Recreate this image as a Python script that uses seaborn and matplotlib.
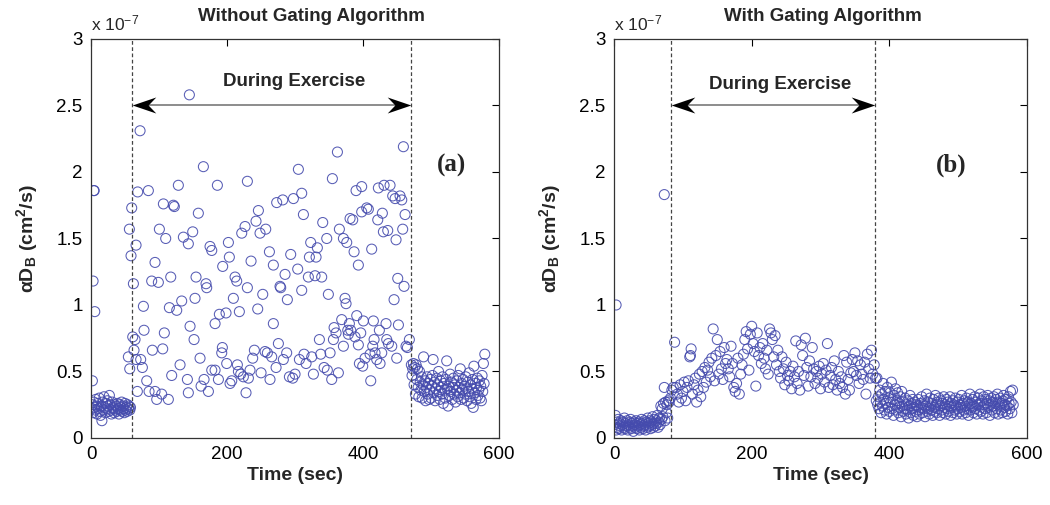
import numpy as np
import pandas as pd
import matplotlib
matplotlib.use("Agg")
import matplotlib.pyplot as plt
from matplotlib.path import Path
import seaborn as sns

# ---------------- data (values in units of 1e-7 cm^2/s) ----------------
# Panel (a): without gating
base_a_t = [2, 3, 4, 4.6, 5.5,
            1, 2, 3, 4, 5, 6, 7, 8, 9, 10, 11, 12, 13, 14, 15, 16, 17, 18, 19, 20,
            21, 22, 23, 24, 25, 26, 27, 28, 29, 30, 31, 32, 33, 34, 35, 36, 37, 38, 39, 40,
            41, 42, 43, 44, 45, 46, 47, 48, 49, 50, 51, 52, 53, 54, 55, 56, 57, 58]
base_a_y = [0.43, 1.18, 1.86, 1.86, 0.95,
            0.22, 0.25, 0.19, 0.27, 0.23, 0.21, 0.29, 0.24, 0.18, 0.26, 0.22, 0.30, 0.20, 0.17, 0.24,
            0.13, 0.27, 0.21, 0.31, 0.23, 0.19, 0.26, 0.22, 0.28, 0.24, 0.20, 0.32, 0.25, 0.21, 0.18,
            0.27, 0.23, 0.22, 0.19, 0.25, 0.21, 0.24, 0.20, 0.26, 0.22, 0.18, 0.25, 0.23, 0.21, 0.27,
            0.20, 0.24, 0.22, 0.19, 0.26, 0.21, 0.23, 0.20, 0.25, 0.22, 0.24, 0.21, 0.23]

ex_a_t = [54.9, 56.9, 56.4, 58.8, 59.8, 62.3, 61.3, 64.7, 63.2, 66.2, 66.2, 68.1, 68.6, 72.1, 73.0,
          75.5, 77.0, 77.9, 81.9, 84.3, 85.3, 89.2, 90.2, 94.1, 94.1, 96.6, 99.0, 100.5, 103.9, 105.4,
          106.4, 107.8, 109.8, 113.7, 115.2, 117.2, 118.6, 121.1, 122.5, 126.0, 128.4, 130.9, 133.3, 135.8, 141.7,
          143.1, 143.1, 144.6, 145.6, 149.5, 151.5, 154.4, 152.9, 157.8, 160.3, 161.8, 165.2, 166.2, 169.1, 170.1,
          172.6, 175.0, 177.5, 177.5, 182.4, 182.4, 185.8, 187.3, 188.7, 192.2, 193.6, 193.1, 198.5, 199.5, 202.0,
          203.4, 204.4, 206.9, 209.3, 211.8, 215.2, 214.2, 216.7, 218.1, 220.1, 221.6, 226.5, 224.0, 227.9, 229.9,
          229.9, 231.4, 233.8, 235.3, 237.7, 240.2, 242.6, 245.1, 246.1, 248.5, 250.0, 252.5, 255.9, 256.9, 259.3,
          262.3, 263.2, 265.7, 268.1, 268.1, 272.1, 273.0, 275.5, 277.9, 278.9, 281.9, 282.8, 285.3, 287.7, 288.7,
          291.7, 293.6, 296.6, 297.6, 300.0, 303.9, 304.9, 306.4, 309.8, 309.8, 312.3, 313.2, 316.2, 319.6, 321.1,
          323.0, 324.5, 327.0, 329.4, 330.9, 332.8, 335.8, 337.7, 339.2, 340.7, 342.7, 346.6, 347.5, 349.0, 351.5,
          353.9, 354.9, 356.4, 357.4, 360.3, 362.3, 363.7, 365.2, 368.6, 371.1, 371.1, 373.5, 375.0, 376.0, 377.5,
          378.4, 379.9, 380.9, 381.9, 384.8, 386.8, 388.2, 389.7, 390.7, 393.1, 393.1, 394.6, 396.6, 398.0, 398.0,
          399.5, 400.5, 402.9, 405.4, 407.8, 410.3, 411.3, 412.7, 414.2, 415.2, 416.2, 417.6, 420.1, 421.6, 422.5,
          424.0, 425.0, 427.5, 428.4, 429.9, 430.9, 433.8, 434.8, 436.3, 437.3, 439.7, 442.2, 443.6, 445.6, 447.1,
          448.5, 449.5, 451.0, 452.0, 454.4, 456.9, 458.3, 459.3, 460.3, 461.8, 463.2, 465.2, 468.1]
ex_a_y = [0.61, 0.52, 1.57, 1.37, 1.73, 1.16, 0.76, 0.74, 0.66, 0.59, 1.45, 0.35, 1.85, 2.31, 0.59,
          0.53, 0.99, 0.81, 0.43, 1.86, 0.35, 1.18, 0.66, 0.35, 1.32, 0.29, 1.17, 1.57, 0.33, 0.67,
          1.76, 0.79, 1.50, 0.29, 0.98, 1.21, 0.47, 1.75, 1.74, 0.96, 1.90, 0.55, 1.03, 1.51, 0.44,
          0.34, 1.46, 2.58, 0.84, 1.55, 0.74, 1.21, 1.05, 1.69, 0.60, 0.39, 2.04, 0.44, 1.16, 1.13,
          0.35, 1.44, 1.41, 0.51, 0.51, 0.86, 1.90, 0.44, 0.93, 0.64, 1.29, 0.68, 0.94, 0.56, 1.47,
          1.36, 0.41, 0.43, 1.05, 1.21, 0.55, 1.18, 0.50, 0.95, 0.48, 1.54, 1.59, 0.46, 0.34, 1.93,
          1.13, 0.45, 0.51, 1.33, 0.60, 0.66, 1.63, 0.97, 1.71, 1.54, 0.49, 1.08, 0.65, 1.57, 0.64,
          1.40, 0.44, 0.61, 1.30, 0.86, 0.53, 1.77, 0.71, 1.14, 1.13, 1.79, 0.59, 1.23, 0.64, 1.04,
          0.46, 1.38, 0.45, 1.80, 0.48, 1.27, 2.02, 0.59, 1.84, 1.11, 1.68, 0.63, 0.56, 1.21, 1.36,
          1.47, 0.61, 0.48, 1.22, 1.36, 1.43, 0.74, 0.63, 1.21, 1.62, 0.53, 1.50, 0.51, 1.08, 0.64,
          0.44, 1.95, 0.74, 0.83, 0.79, 2.15, 0.49, 1.57, 0.89, 0.69, 1.50, 1.05, 1.01, 1.47, 0.81,
          0.78, 0.86, 1.65, 0.81, 1.64, 1.40, 0.76, 1.86, 0.92, 0.70, 1.30, 0.56, 0.79, 1.89, 1.70,
          0.54, 0.88, 0.60, 1.73, 1.72, 0.63, 0.43, 1.42, 0.69, 0.88, 0.74, 0.64, 0.59, 1.64, 1.88,
          0.81, 0.56, 0.64, 1.69, 1.55, 1.90, 0.86, 0.74, 1.56, 0.71, 1.90, 0.69, 1.82, 1.04, 1.80,
          1.49, 0.60, 1.20, 0.85, 1.82, 1.79, 1.57, 2.19, 1.14, 1.68, 0.69, 0.68, 0.74]

rec_a_t = [471, 472, 473, 474, 475, 476, 477, 478, 479, 480, 481, 482, 483, 484, 485, 486, 487, 488,
           489, 490, 491, 492, 493, 494, 495, 496, 497, 498, 499, 500, 501, 502, 503, 504, 505, 506,
           507, 508, 509, 510, 511, 512, 513, 514, 515, 516, 517, 518, 519, 520, 521, 522, 523, 524,
           525, 526, 527, 528, 529, 530, 531, 532, 533, 534, 535, 536, 537, 538, 539, 540, 541, 542,
           543, 544, 545, 546, 547, 548, 549, 550, 551, 552, 553, 554, 555, 556, 557, 558, 559, 560,
           561, 562, 563, 564, 565, 566, 567, 568, 569, 570, 571, 572, 573, 574, 575, 576, 577, 578, 579]
rec_a_y = [0.55, 0.47, 0.52, 0.56, 0.40, 0.53, 0.33, 0.55, 0.44, 0.52,
           0.38, 0.31, 0.50, 0.42, 0.36, 0.46, 0.30, 0.40, 0.61, 0.35,
           0.43, 0.28, 0.38, 0.46, 0.33, 0.41, 0.29, 0.36, 0.44, 0.30,
           0.39, 0.47, 0.59, 0.34, 0.42, 0.28, 0.37, 0.45, 0.32, 0.40,
           0.50, 0.35, 0.29, 0.43, 0.38, 0.33, 0.46, 0.26, 0.41, 0.36,
           0.30, 0.44, 0.58, 0.37, 0.24, 0.39, 0.32, 0.48, 0.35, 0.42,
           0.29, 0.38, 0.45, 0.33, 0.40, 0.27, 0.36, 0.43, 0.31, 0.47,
           0.38, 0.34, 0.52, 0.29, 0.41, 0.36, 0.44, 0.30, 0.39, 0.33,
           0.46, 0.37, 0.28, 0.42, 0.35, 0.49, 0.31, 0.40, 0.26, 0.37,
           0.44, 0.23, 0.54, 0.34, 0.41, 0.29, 0.38, 0.45, 0.32, 0.36,
           0.43, 0.30, 0.39, 0.28, 0.47, 0.35, 0.56, 0.41, 0.63]

# Panel (b): with gating
base_b_t = [3, 73,
            1, 2, 3, 4, 5, 6, 7, 8, 9, 10, 11, 12, 13, 14, 15, 16, 17, 18, 19, 20,
            21, 22, 23, 24, 25, 26, 27, 28, 29, 30, 31, 32, 33, 34, 35, 36, 37, 38, 39, 40,
            41, 42, 43, 44, 45, 46, 47, 48, 49, 50, 51, 52, 53, 54, 55, 56, 57, 58, 59, 60,
            61, 62, 63, 64, 65, 66, 67, 68, 69, 70, 71, 72, 73, 74, 75, 76, 77, 78, 79]
base_b_y = [1.00, 1.83,
            0.10, 0.17, 0.06, 0.12, 0.08, 0.14, 0.07, 0.11, 0.09, 0.13,
            0.06, 0.10, 0.12, 0.08, 0.15, 0.07, 0.11, 0.09, 0.13, 0.06,
            0.10, 0.08, 0.12, 0.14, 0.07, 0.11, 0.09, 0.05, 0.12, 0.10,
            0.08, 0.13, 0.07, 0.11, 0.09, 0.12, 0.06, 0.10, 0.08, 0.14,
            0.11, 0.07, 0.09, 0.13, 0.10, 0.06, 0.12, 0.08, 0.15, 0.11,
            0.09, 0.13, 0.07, 0.12, 0.10, 0.16, 0.08, 0.11, 0.14, 0.09,
            0.13, 0.11, 0.17, 0.08, 0.12, 0.15, 0.10, 0.24, 0.14, 0.22,
            0.16, 0.26, 0.38, 0.13, 0.27, 0.19, 0.25, 0.15, 0.28]

ex_b_t = [80, 82, 84, 86, 88, 90, 92, 94, 96, 98, 100, 102, 104, 106, 108, 110, 111, 112, 114, 116,
          118, 120, 122, 124, 126, 128, 130, 132, 134, 136, 138, 140, 142, 144, 146, 148, 150, 152, 154, 156,
          158, 160, 162, 164, 166, 168, 170, 172, 174, 176, 178, 180, 182, 184, 186, 188, 190, 192, 194, 196,
          198, 200, 202, 204, 206, 208, 210, 212, 214, 216, 218, 220, 222, 224, 226, 228, 230, 232, 234, 236,
          238, 240, 242, 244, 246, 248, 250, 252, 254, 256, 258, 260, 262, 264, 266, 268, 270, 272, 274, 276,
          278, 280, 282, 284, 286, 288, 290, 292, 294, 296, 298, 300, 302, 304, 306, 308, 310, 312, 314, 316,
          318, 320, 322, 324, 326, 328, 330, 332, 334, 336, 338, 340, 342, 344, 346, 348, 350, 352, 354, 356,
          358, 360, 362, 364, 366, 368, 370, 372, 374, 376, 378, 380]
ex_b_y = [0.27, 0.30, 0.36, 0.38, 0.72, 0.38, 0.33, 0.27, 0.40, 0.30, 0.35, 0.42, 0.28, 0.38, 0.43, 0.61, 0.62, 0.67, 0.33, 0.40,
          0.45, 0.27, 0.36, 0.48, 0.31, 0.50, 0.38, 0.53, 0.42, 0.51, 0.57, 0.46, 0.60, 0.82, 0.43, 0.62, 0.74, 0.48, 0.65, 0.52,
          0.44, 0.68, 0.56, 0.59, 0.52, 0.46, 0.69, 0.56, 0.38, 0.35, 0.41, 0.60, 0.33, 0.48, 0.55, 0.63, 0.74, 0.80, 0.67, 0.51,
          0.78, 0.84, 0.71, 0.65, 0.39, 0.79, 0.62, 0.68, 0.56, 0.71, 0.60, 0.52, 0.66, 0.48, 0.82, 0.79, 0.74, 0.61, 0.77, 0.55,
          0.66, 0.50, 0.45, 0.61, 0.52, 0.40, 0.57, 0.47, 0.43, 0.50, 0.37, 0.54, 0.46, 0.73, 0.41, 0.50, 0.36, 0.70, 0.62, 0.47,
          0.75, 0.53, 0.39, 0.58, 0.46, 0.68, 0.52, 0.41, 0.50, 0.45, 0.54, 0.37, 0.48, 0.56, 0.42, 0.51, 0.71, 0.38, 0.47, 0.53,
          0.40, 0.58, 0.44, 0.36, 0.50, 0.41, 0.46, 0.38, 0.62, 0.33, 0.57, 0.44, 0.36, 0.49, 0.59, 0.50, 0.64, 0.47, 0.58, 0.41,
          0.55, 0.48, 0.44, 0.57, 0.33, 0.63, 0.52, 0.45, 0.66, 0.48, 0.55, 0.45]

rec_b_t = list(range(381, 581))
rec_b_y = [0.28, 0.45, 0.25, 0.31, 0.22, 0.36, 0.27, 0.19, 0.33, 0.24, 0.41, 0.29, 0.21, 0.35, 0.26, 0.18, 0.38, 0.23, 0.30, 0.20,
           0.34, 0.27, 0.42, 0.22, 0.29, 0.17, 0.32, 0.25, 0.37, 0.21, 0.28, 0.34, 0.19, 0.26, 0.23, 0.31, 0.16, 0.35, 0.24, 0.20,
           0.27, 0.22, 0.30, 0.18, 0.25, 0.21, 0.28, 0.15, 0.24, 0.32, 0.19, 0.26, 0.22, 0.29, 0.17, 0.23, 0.27, 0.20, 0.25, 0.16,
           0.24, 0.29, 0.21, 0.18, 0.26, 0.23, 0.31, 0.19, 0.25, 0.22, 0.28, 0.16, 0.24, 0.33, 0.20, 0.27, 0.22, 0.18, 0.30, 0.24,
           0.21, 0.26, 0.17, 0.29, 0.23, 0.20, 0.32, 0.25, 0.19, 0.27, 0.22, 0.30, 0.17, 0.24, 0.28, 0.21, 0.26, 0.19, 0.31, 0.23,
           0.25, 0.18, 0.29, 0.22, 0.27, 0.20, 0.24, 0.31, 0.17, 0.26, 0.23, 0.28, 0.19, 0.25, 0.21, 0.30, 0.24, 0.18, 0.27, 0.22,
           0.29, 0.20, 0.25, 0.23, 0.32, 0.18, 0.26, 0.21, 0.28, 0.24, 0.19, 0.30, 0.22, 0.27, 0.17, 0.25, 0.33, 0.21, 0.26, 0.23,
           0.29, 0.19, 0.24, 0.31, 0.22, 0.27, 0.18, 0.25, 0.30, 0.21, 0.26, 0.33, 0.20, 0.28, 0.23, 0.18, 0.31, 0.25, 0.22, 0.29,
           0.19, 0.26, 0.32, 0.23, 0.28, 0.17, 0.25, 0.30, 0.21, 0.27, 0.24, 0.31, 0.19, 0.26, 0.29, 0.22, 0.33, 0.18, 0.27, 0.24,
           0.30, 0.21, 0.26, 0.19, 0.28, 0.32, 0.23, 0.25, 0.20, 0.29, 0.24, 0.18, 0.31, 0.26, 0.22, 0.35, 0.27, 0.19, 0.36, 0.25]

titles = ["Without Gating Algorithm", "With Gating Algorithm"]
panel_tags = ["(a)", "(b)"]
exercise_bounds = [(60, 471), (83, 379)]
x_ticks = [0, 200, 400, 600]
y_ticks = [0, 0.5, 1, 1.5, 2, 2.5, 3]
y_tick_labels = ["0", "0.5", "1", "1.5", "2", "2.5", "3"]

# ---------------- styling ----------------
sns.set_style("white")
plt.rcParams["font.family"] = ["Liberation Sans", "DejaVu Sans"]
plt.rcParams["mathtext.fontset"] = "custom"
plt.rcParams["mathtext.rm"] = "Liberation Sans"
plt.rcParams["mathtext.bf"] = "Liberation Sans:bold"
plt.rcParams["mathtext.it"] = "Liberation Sans:italic"

MARK = "#454bad"

# concave (stealth-like) arrow head markers
head_left = Path([(-1, 0), (1, 0.68), (0.35, 0), (1, -0.68), (-1, 0)],
                 [Path.MOVETO, Path.LINETO, Path.LINETO, Path.LINETO, Path.CLOSEPOLY])
head_right = Path([(1, 0), (-1, 0.68), (-0.35, 0), (-1, -0.68), (1, 0)],
                  [Path.MOVETO, Path.LINETO, Path.LINETO, Path.LINETO, Path.CLOSEPOLY])

df_a = pd.DataFrame({"t": base_a_t + ex_a_t + rec_a_t,
                     "y": base_a_y + ex_a_y + rec_a_y})
df_b = pd.DataFrame({"t": base_b_t + ex_b_t + rec_b_t,
                     "y": base_b_y + ex_b_y + rec_b_y})

fig = plt.figure(figsize=(10.5, 5.05), dpi=100)
ax_a = fig.add_axes([0.0867, 0.1327, 0.3886, 0.7901])
ax_b = fig.add_axes([0.5848, 0.1327, 0.3933, 0.7901])

tag_pos = [(530, 2.05), (490, 2.05)]
text_pos = [(298, 2.68), (242, 2.66)]
title_x = [0.54, 0.505]

for i, (ax, df) in enumerate(zip([ax_a, ax_b], [df_a, df_b])):
    sns.scatterplot(data=df, x="t", y="y", ax=ax, marker="o", s=52,
                    facecolor="none", edgecolor=MARK, linewidth=0.75, alpha=0.9)
    ax.set_xlim(0, 600)
    ax.set_ylim(0, 3)
    ax.set_xticks(x_ticks)
    ax.set_xticklabels([str(v) for v in x_ticks])
    ax.set_yticks(y_ticks)
    ax.set_yticklabels(y_tick_labels)
    ax.tick_params(direction="in", length=5, width=0.8, top=True, right=True,
                   labelsize=13.5, pad=6, colors="black")
    for sp in ax.spines.values():
        sp.set_visible(True)
        sp.set_color("#333333")
        sp.set_linewidth(0.9)
    ax.set_xlabel("Time (sec)", fontsize=14, fontweight="bold", labelpad=3)
    ax.set_ylabel(r"αD$_\mathbf{B}$ (cm$^\mathbf{2}$/s)", fontsize=14,
                  fontweight="bold", labelpad=12)
    ax.set_title(titles[i], fontsize=13.5, fontweight="bold", x=title_x[i], pad=13)
    ax.text(0.0, 1.015, r"x 10$^{-7}$", transform=ax.transAxes, ha="left",
            va="bottom", fontsize=12.5)
    lo, hi = exercise_bounds[i]
    for xv in (lo, hi):
        ax.axvline(xv, color="#444444", lw=0.9, ls=(0, (3, 2)))
    # arrow: grey shaft, black concave heads whose tips touch the dashed lines
    ax.plot([lo + 12, hi - 12], [2.5, 2.5], color="#8c8c8c", lw=1.4, solid_capstyle="butt")
    ax.plot([lo + 17.5], [2.5], marker=head_left, markersize=17, color="black", mew=0)
    ax.plot([hi - 17.5], [2.5], marker=head_right, markersize=17, color="black", mew=0)
    ax.text(text_pos[i][0], text_pos[i][1], "During Exercise", ha="center",
            va="center", fontsize=13.5, fontweight="bold")
    ax.text(tag_pos[i][0], tag_pos[i][1], panel_tags[i], ha="center", va="center",
            fontsize=18, fontweight="bold", family="Liberation Serif")

fig.savefig("out.png", dpi=100)
